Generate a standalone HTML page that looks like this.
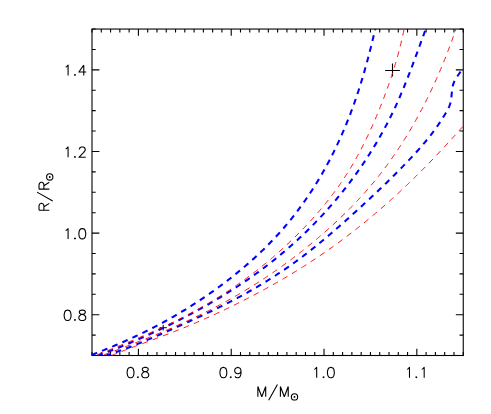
<!DOCTYPE html>
<html><head><meta charset="utf-8"><title>R/R vs M/M</title>
<style>
html,body{margin:0;padding:0;background:#fff;font-family:"Liberation Sans",sans-serif;}
svg{display:block}
</style></head><body>
<svg width="491" height="414" viewBox="0 0 491 414">
<rect width="491" height="414" fill="#fff"/>
<defs><clipPath id="c"><rect x="91.5" y="29.05" width="371.75" height="327.05"/></clipPath></defs>
<g fill="none" stroke="#000" stroke-width="1.1">
<rect x="92.0" y="29.05" width="371.25" height="326.45"/>
<path d="M92.00,355.50v-3.50 M92.00,29.05v3.50 M101.28,355.50v-3.50 M101.28,29.05v3.50 M110.56,355.50v-3.50 M110.56,29.05v3.50 M119.84,355.50v-3.50 M119.84,29.05v3.50 M129.13,355.50v-3.50 M129.13,29.05v3.50 M138.41,355.50v-6.80 M138.41,29.05v6.80 M147.69,355.50v-3.50 M147.69,29.05v3.50 M156.97,355.50v-3.50 M156.97,29.05v3.50 M166.25,355.50v-3.50 M166.25,29.05v3.50 M175.53,355.50v-3.50 M175.53,29.05v3.50 M184.81,355.50v-3.50 M184.81,29.05v3.50 M194.09,355.50v-3.50 M194.09,29.05v3.50 M203.38,355.50v-3.50 M203.38,29.05v3.50 M212.66,355.50v-3.50 M212.66,29.05v3.50 M221.94,355.50v-3.50 M221.94,29.05v3.50 M231.22,355.50v-6.80 M231.22,29.05v6.80 M240.50,355.50v-3.50 M240.50,29.05v3.50 M249.78,355.50v-3.50 M249.78,29.05v3.50 M259.06,355.50v-3.50 M259.06,29.05v3.50 M268.34,355.50v-3.50 M268.34,29.05v3.50 M277.62,355.50v-3.50 M277.62,29.05v3.50 M286.91,355.50v-3.50 M286.91,29.05v3.50 M296.19,355.50v-3.50 M296.19,29.05v3.50 M305.47,355.50v-3.50 M305.47,29.05v3.50 M314.75,355.50v-3.50 M314.75,29.05v3.50 M324.03,355.50v-6.80 M324.03,29.05v6.80 M333.31,355.50v-3.50 M333.31,29.05v3.50 M342.59,355.50v-3.50 M342.59,29.05v3.50 M351.88,355.50v-3.50 M351.88,29.05v3.50 M361.16,355.50v-3.50 M361.16,29.05v3.50 M370.44,355.50v-3.50 M370.44,29.05v3.50 M379.72,355.50v-3.50 M379.72,29.05v3.50 M389.00,355.50v-3.50 M389.00,29.05v3.50 M398.28,355.50v-3.50 M398.28,29.05v3.50 M407.56,355.50v-3.50 M407.56,29.05v3.50 M416.84,355.50v-6.80 M416.84,29.05v6.80 M426.12,355.50v-3.50 M426.12,29.05v3.50 M435.41,355.50v-3.50 M435.41,29.05v3.50 M444.69,355.50v-3.50 M444.69,29.05v3.50 M453.97,355.50v-3.50 M453.97,29.05v3.50 M463.25,355.50v-3.50 M463.25,29.05v3.50 M92.00,355.50h3.70 M463.25,355.50h-3.70 M92.00,335.10h3.70 M463.25,335.10h-3.70 M92.00,314.69h7.40 M463.25,314.69h-7.40 M92.00,294.29h3.70 M463.25,294.29h-3.70 M92.00,273.89h3.70 M463.25,273.89h-3.70 M92.00,253.48h3.70 M463.25,253.48h-3.70 M92.00,233.08h7.40 M463.25,233.08h-7.40 M92.00,212.68h3.70 M463.25,212.68h-3.70 M92.00,192.27h3.70 M463.25,192.27h-3.70 M92.00,171.87h3.70 M463.25,171.87h-3.70 M92.00,151.47h7.40 M463.25,151.47h-7.40 M92.00,131.07h3.70 M463.25,131.07h-3.70 M92.00,110.66h3.70 M463.25,110.66h-3.70 M92.00,90.26h3.70 M463.25,90.26h-3.70 M92.00,69.86h7.40 M463.25,69.86h-7.40 M92.00,49.45h3.70 M463.25,49.45h-3.70 M92.00,29.05h3.70 M463.25,29.05h-3.70"/>
</g>
<g fill="none" stroke="#000" stroke-width="1.1" stroke-linecap="butt" stroke-linejoin="round">
<path d="M130.07,367.41 L128.60,367.90 L127.62,369.37 L127.13,371.82 L127.13,373.29 L127.62,375.74 L128.60,377.21 L130.07,377.70 L131.05,377.70 L132.52,377.21 L133.50,375.74 L133.99,373.29 L133.99,371.82 L133.50,369.37 L132.52,367.90 L131.05,367.41 L130.07,367.41 M137.91,376.72 L137.42,377.21 L137.91,377.70 L138.40,377.21 L137.91,376.72 M144.28,367.41 L142.81,367.90 L142.32,368.88 L142.32,369.86 L142.81,370.84 L143.79,371.33 L145.75,371.82 L147.22,372.31 L148.20,373.29 L148.69,374.27 L148.69,375.74 L148.20,376.72 L147.71,377.21 L146.24,377.70 L144.28,377.70 L142.81,377.21 L142.32,376.72 L141.83,375.74 L141.83,374.27 L142.32,373.29 L143.30,372.31 L144.77,371.82 L146.73,371.33 L147.71,370.84 L148.20,369.86 L148.20,368.88 L147.71,367.90 L146.24,367.41 L144.28,367.41 M222.88,367.41 L221.41,367.90 L220.43,369.37 L219.94,371.82 L219.94,373.29 L220.43,375.74 L221.41,377.21 L222.88,377.70 L223.86,377.70 L225.33,377.21 L226.31,375.74 L226.80,373.29 L226.80,371.82 L226.31,369.37 L225.33,367.90 L223.86,367.41 L222.88,367.41 M230.72,376.72 L230.23,377.21 L230.72,377.70 L231.21,377.21 L230.72,376.72 M241.01,370.84 L240.52,372.31 L239.54,373.29 L238.07,373.78 L237.58,373.78 L236.11,373.29 L235.13,372.31 L234.64,370.84 L234.64,370.35 L235.13,368.88 L236.11,367.90 L237.58,367.41 L238.07,367.41 L239.54,367.90 L240.52,368.88 L241.01,370.84 L241.01,373.29 L240.52,375.74 L239.54,377.21 L238.07,377.70 L237.09,377.70 L235.62,377.21 L235.13,376.23 M314.22,369.37 L315.20,368.88 L316.67,367.41 L316.67,377.70 M323.53,376.72 L323.04,377.21 L323.53,377.70 L324.02,377.21 L323.53,376.72 M330.39,367.41 L328.92,367.90 L327.94,369.37 L327.45,371.82 L327.45,373.29 L327.94,375.74 L328.92,377.21 L330.39,377.70 L331.37,377.70 L332.84,377.21 L333.82,375.74 L334.31,373.29 L334.31,371.82 L333.82,369.37 L332.84,367.90 L331.37,367.41 L330.39,367.41 M407.03,369.37 L408.01,368.88 L409.48,367.41 L409.48,377.70 M416.34,376.72 L415.85,377.21 L416.34,377.70 L416.83,377.21 L416.34,376.72 M421.73,369.37 L422.71,368.88 L424.18,367.41 L424.18,377.70 M67.11,310.15 L65.64,310.64 L64.66,312.11 L64.17,314.56 L64.17,316.03 L64.66,318.48 L65.64,319.95 L67.11,320.44 L68.09,320.44 L69.56,319.95 L70.54,318.48 L71.03,316.03 L71.03,314.56 L70.54,312.11 L69.56,310.64 L68.09,310.15 L67.11,310.15 M74.95,319.46 L74.46,319.95 L74.95,320.44 L75.44,319.95 L74.95,319.46 M81.32,310.15 L79.85,310.64 L79.36,311.62 L79.36,312.60 L79.85,313.58 L80.83,314.07 L82.79,314.56 L84.26,315.05 L85.24,316.03 L85.73,317.01 L85.73,318.48 L85.24,319.46 L84.75,319.95 L83.28,320.44 L81.32,320.44 L79.85,319.95 L79.36,319.46 L78.87,318.48 L78.87,317.01 L79.36,316.03 L80.34,315.05 L81.81,314.56 L83.77,314.07 L84.75,313.58 L85.24,312.60 L85.24,311.62 L84.75,310.64 L83.28,310.15 L81.32,310.15 M65.64,230.59 L66.62,230.10 L68.09,228.63 L68.09,238.92 M74.95,237.94 L74.46,238.43 L74.95,238.92 L75.44,238.43 L74.95,237.94 M81.81,228.63 L80.34,229.12 L79.36,230.59 L78.87,233.04 L78.87,234.51 L79.36,236.96 L80.34,238.43 L81.81,238.92 L82.79,238.92 L84.26,238.43 L85.24,236.96 L85.73,234.51 L85.73,233.04 L85.24,230.59 L84.26,229.12 L82.79,228.63 L81.81,228.63 M65.64,148.97 L66.62,148.48 L68.09,147.01 L68.09,157.30 M74.95,156.32 L74.46,156.81 L74.95,157.30 L75.44,156.81 L74.95,156.32 M79.36,149.46 L79.36,148.97 L79.85,147.99 L80.34,147.50 L81.32,147.01 L83.28,147.01 L84.26,147.50 L84.75,147.99 L85.24,148.97 L85.24,149.95 L84.75,150.93 L83.77,152.40 L78.87,157.30 L85.73,157.30 M65.64,67.13 L66.62,66.64 L68.09,65.17 L68.09,75.46 M74.95,74.48 L74.46,74.97 L74.95,75.46 L75.44,74.97 L74.95,74.48 M83.77,65.17 L78.87,72.03 L86.22,72.03 M83.77,65.17 L83.77,75.46 M257.86,386.46 L257.86,396.75 M257.86,386.46 L261.78,396.75 M265.70,386.46 L261.78,396.75 M265.70,386.46 L265.70,396.75 M277.46,384.50 L268.64,400.18 M280.40,386.46 L280.40,396.75 M280.40,386.46 L284.32,396.75 M288.24,386.46 L284.32,396.75 M288.24,386.46 L288.24,396.75 M39.01,210.24 L49.30,210.24 M39.01,210.24 L39.01,205.83 L39.50,204.36 L39.99,203.87 L40.97,203.38 L41.95,203.38 L42.93,203.87 L43.42,204.36 L43.91,205.83 L43.91,210.24 M43.91,206.81 L49.30,203.38 M37.05,192.11 L52.73,200.93 M39.01,189.17 L49.30,189.17 M39.01,189.17 L39.01,184.76 L39.50,183.29 L39.99,182.80 L40.97,182.31 L41.95,182.31 L42.93,182.80 L43.42,183.29 L43.91,184.76 L43.91,189.17 M43.91,185.74 L49.30,182.31"/>
<circle cx="294.5" cy="396.9" r="3.15"/>
<circle cx="49.75" cy="176.95" r="3.15"/>
</g>
<circle cx="294.5" cy="396.9" r="0.95" fill="#000"/>
<circle cx="49.75" cy="176.95" r="0.95" fill="#000"/>
<g fill="none" stroke="#000" stroke-width="1.1">
<path d="M385.1,70.45h14.8M392.5,63.4v13.2"/>
<path d="M159.6,327.7h7.2M163.2,324.8v5.6" stroke-width="1"/>
</g>
<g clip-path="url(#c)" fill="none">
<g stroke="#0000ff" stroke-width="2.05">
<path d="M78.51,359.98 L79.81,359.47 L81.11,358.97 L82.42,358.47 L83.72,357.96 L85.02,357.46 L86.32,356.96 L87.62,356.45 L88.92,355.95 L90.22,355.45 L91.53,354.94 L92.83,354.44 L94.13,353.94 L95.43,353.43 L96.73,352.92 L98.03,352.42 L99.33,351.90 L100.62,351.39 L101.92,350.87 L103.21,350.35 L104.51,349.83 L105.80,349.31 L107.09,348.78 L108.38,348.25 L109.67,347.72 L110.96,347.18 L112.24,346.64 L113.53,346.10 L114.81,345.56 L116.09,345.02 L117.37,344.47 L118.65,343.92 L119.93,343.36 L121.21,342.81 L122.48,342.25 L123.76,341.69 L125.03,341.12 L126.30,340.56 L127.57,339.99 L128.83,339.41 L130.10,338.84 L131.36,338.26 L132.62,337.68 L133.88,337.09 L135.14,336.51 L136.40,335.92 L137.65,335.32 L138.91,334.73 L140.16,334.13 L141.41,333.53 L142.66,332.92 L143.90,332.32 L145.14,331.70 L146.39,331.09 L147.63,330.47 L148.86,329.85 L150.10,329.23 L151.33,328.61 L152.57,327.98 L153.79,327.34 L155.02,326.71 L156.25,326.07 L157.47,325.43 L158.69,324.78 L159.91,324.14 L161.13,323.49 L162.34,322.83 L163.55,322.17 L164.76,321.51 L165.97,320.85 L167.18,320.18 L168.38,319.51 L169.58,318.84 L170.78,318.16 L171.97,317.48 L173.17,316.80 L174.36,316.11 L175.55,315.42 L176.74,314.73 L177.92,314.03 L179.10,313.33 L180.28,312.63 L181.46,311.92 L182.64,311.21 L183.81,310.50 L184.99,309.78 L186.16,309.06 L187.32,308.34 L188.49,307.62 L189.65,306.89 L190.81,306.15 L191.97,305.42 L193.13,304.68 L194.29,303.94 L195.44,303.19 L196.59,302.44 L197.74,301.69 L198.88,300.94 L200.03,300.18 L201.17,299.42 L202.31,298.65 L203.45,297.88 L204.58,297.11 L205.72,296.33 L206.85,295.56 L207.98,294.77 L209.11,293.99 L210.23,293.20 L211.36,292.41 L212.48,291.61 L213.60,290.81 L214.72,290.01 L215.83,289.21 L216.94,288.40 L218.06,287.59 L219.17,286.77 L220.27,285.95 L221.38,285.13 L222.48,284.31 L223.58,283.48 L224.68,282.65 L225.78,281.81 L226.88,280.97 L227.97,280.13 L229.06,279.28 L230.15,278.44 L231.23,277.58 L232.32,276.73 L233.40,275.87 L234.48,275.01 L235.56,274.14 L236.63,273.27 L237.70,272.40 L238.77,271.52 L239.84,270.64 L240.90,269.76 L241.96,268.87 L243.02,267.98 L244.08,267.08 L245.13,266.19 L246.18,265.29 L247.23,264.38 L248.27,263.47 L249.31,262.56 L250.35,261.65 L251.38,260.73 L252.42,259.80 L253.44,258.88 L254.47,257.95 L255.49,257.01 L256.51,256.08 L257.52,255.14 L258.53,254.19 L259.54,253.24 L260.55,252.29 L261.55,251.34 L262.54,250.38 L263.54,249.41 L264.52,248.45 L265.51,247.48 L266.49,246.50 L267.47,245.53 L268.44,244.54 L269.41,243.56 L270.38,242.57 L271.34,241.58 L272.30,240.58 L273.25,239.58 L274.20,238.57 L275.15,237.57 L276.09,236.55 L277.02,235.54 L277.95,234.52 L278.88,233.50 L279.80,232.47 L280.72,231.44 L281.64,230.40 L282.55,229.36 L283.45,228.32 L284.35,227.28 L285.25,226.23 L286.14,225.17 L287.03,224.12 L287.91,223.05 L288.79,221.99 L289.66,220.92 L290.53,219.85 L291.40,218.78 L292.26,217.70 L293.11,216.62 L293.97,215.53 L294.81,214.44 L295.66,213.35 L296.49,212.26 L297.33,211.16 L298.16,210.06 L298.98,208.95 L299.80,207.84 L300.62,206.73 L301.43,205.62 L302.24,204.50 L303.04,203.38 L303.84,202.26 L304.63,201.13 L305.42,200.00 L306.21,198.87 L306.99,197.73 L307.77,196.59 L308.54,195.45 L309.31,194.30 L310.07,193.16 L310.83,192.01 L311.58,190.85 L312.33,189.70 L313.08,188.54 L313.82,187.38 L314.56,186.21 L315.29,185.04 L316.02,183.87 L316.74,182.70 L317.46,181.53 L318.17,180.35 L318.88,179.17 L319.59,177.99 L320.29,176.80 L320.99,175.61 L321.68,174.42 L322.37,173.23 L323.05,172.04 L323.73,170.84 L324.41,169.64 L325.08,168.44 L325.74,167.23 L326.41,166.03 L327.06,164.82 L327.72,163.60 L328.37,162.39 L329.01,161.18 L329.65,159.96 L330.29,158.74 L330.92,157.52 L331.55,156.29 L332.17,155.06 L332.79,153.84 L333.41,152.60 L334.02,151.37 L334.62,150.14 L335.23,148.90 L335.83,147.66 L336.42,146.42 L337.01,145.18 L337.60,143.93 L338.18,142.69 L338.76,141.44 L339.33,140.19 L339.90,138.94 L340.47,137.68 L341.03,136.43 L341.59,135.17 L342.14,133.91 L342.69,132.65 L343.23,131.39 L343.78,130.12 L344.31,128.85 L344.85,127.59 L345.38,126.32 L345.90,125.05 L346.42,123.77 L346.94,122.50 L347.46,121.22 L347.97,119.95 L348.47,118.67 L348.97,117.39 L349.47,116.11 L349.97,114.82 L350.46,113.54 L350.95,112.25 L351.43,110.97 L351.91,109.68 L352.38,108.39 L352.85,107.10 L353.32,105.81 L353.79,104.51 L354.25,103.22 L354.70,101.92 L355.16,100.62 L355.61,99.32 L356.05,98.02 L356.50,96.72 L356.94,95.42 L357.37,94.11 L357.81,92.81 L358.24,91.50 L358.66,90.19 L359.08,88.88 L359.50,87.57 L359.92,86.26 L360.33,84.94 L360.74,83.62 L361.15,82.31 L361.56,80.99 L361.96,79.67 L362.36,78.34 L362.75,77.02 L363.14,75.70 L363.53,74.37 L363.92,73.04 L364.31,71.71 L364.69,70.38 L365.07,69.05 L365.44,67.71 L365.82,66.38 L366.19,65.04 L366.56,63.70 L366.92,62.36 L367.29,61.02 L367.65,59.67 L368.01,58.33 L368.37,56.98 L368.72,55.63 L369.07,54.28 L369.42,52.93 L369.77,51.57 L370.12,50.22 L370.46,48.86 L370.80,47.50 L371.14,46.14 L371.48,44.78 L371.82,43.41 L372.15,42.05 L372.48,40.68 L372.81,39.31 L373.14,37.94 L373.47,36.57 L373.80,35.19 L374.13,33.82 L374.45,32.45 L374.78,31.08 L375.11,29.71 L375.44,28.33 L375.76,26.96 L376.09,25.59 L376.42,24.22 L376.75,22.84 L377.08,21.47" stroke-dasharray="5.8 5.238" stroke-dashoffset="7.922"/>
<path d="M84.84,360.36 L86.13,359.88 L87.43,359.41 L88.72,358.93 L90.01,358.45 L91.30,357.97 L92.59,357.50 L93.88,357.02 L95.17,356.54 L96.46,356.07 L97.75,355.59 L99.05,355.11 L100.34,354.63 L101.63,354.16 L102.92,353.67 L104.20,353.19 L105.49,352.71 L106.78,352.22 L108.06,351.73 L109.35,351.23 L110.63,350.74 L111.91,350.24 L113.19,349.74 L114.47,349.23 L115.75,348.73 L117.03,348.22 L118.31,347.71 L119.58,347.20 L120.86,346.68 L122.13,346.16 L123.40,345.64 L124.68,345.12 L125.95,344.59 L127.22,344.07 L128.48,343.54 L129.75,343.00 L131.02,342.47 L132.28,341.93 L133.55,341.39 L134.81,340.85 L136.07,340.31 L137.34,339.76 L138.60,339.21 L139.86,338.66 L141.12,338.10 L142.37,337.55 L143.63,336.99 L144.89,336.43 L146.14,335.87 L147.39,335.30 L148.65,334.73 L149.90,334.16 L151.15,333.59 L152.40,333.01 L153.65,332.44 L154.90,331.86 L156.14,331.27 L157.39,330.69 L158.63,330.10 L159.88,329.52 L161.12,328.92 L162.36,328.33 L163.60,327.74 L164.84,327.14 L166.08,326.54 L167.32,325.93 L168.56,325.33 L169.80,324.72 L171.03,324.11 L172.27,323.50 L173.50,322.89 L174.73,322.27 L175.96,321.65 L177.19,321.03 L178.42,320.41 L179.65,319.79 L180.88,319.16 L182.11,318.53 L183.33,317.90 L184.56,317.26 L185.78,316.63 L187.00,315.99 L188.22,315.34 L189.44,314.70 L190.66,314.05 L191.88,313.40 L193.10,312.75 L194.31,312.10 L195.53,311.44 L196.74,310.78 L197.95,310.12 L199.16,309.46 L200.37,308.79 L201.57,308.12 L202.78,307.45 L203.98,306.77 L205.19,306.10 L206.39,305.42 L207.59,304.74 L208.78,304.05 L209.98,303.36 L211.18,302.67 L212.37,301.98 L213.56,301.28 L214.75,300.58 L215.94,299.88 L217.13,299.18 L218.31,298.47 L219.49,297.76 L220.68,297.05 L221.86,296.33 L223.03,295.61 L224.21,294.89 L225.39,294.17 L226.56,293.44 L227.73,292.71 L228.90,291.98 L230.06,291.24 L231.23,290.50 L232.39,289.76 L233.55,289.01 L234.71,288.27 L235.87,287.51 L237.03,286.76 L238.18,286.00 L239.33,285.24 L240.48,284.48 L241.63,283.71 L242.77,282.94 L243.91,282.17 L245.05,281.39 L246.19,280.61 L247.33,279.83 L248.46,279.05 L249.59,278.26 L250.72,277.47 L251.85,276.67 L252.97,275.87 L254.10,275.07 L255.22,274.27 L256.33,273.46 L257.45,272.65 L258.56,271.84 L259.67,271.02 L260.78,270.20 L261.89,269.38 L262.99,268.55 L264.09,267.72 L265.19,266.89 L266.29,266.05 L267.38,265.21 L268.47,264.37 L269.56,263.53 L270.65,262.68 L271.73,261.82 L272.82,260.97 L273.89,260.11 L274.97,259.25 L276.04,258.38 L277.12,257.52 L278.18,256.65 L279.25,255.77 L280.31,254.89 L281.37,254.01 L282.43,253.13 L283.49,252.24 L284.54,251.35 L285.59,250.46 L286.64,249.56 L287.68,248.66 L288.72,247.76 L289.76,246.85 L290.80,245.94 L291.83,245.03 L292.86,244.11 L293.89,243.19 L294.91,242.27 L295.93,241.34 L296.95,240.41 L297.97,239.48 L298.98,238.54 L299.99,237.60 L301.00,236.66 L302.00,235.72 L303.00,234.77 L304.00,233.81 L305.00,232.86 L305.99,231.90 L306.98,230.94 L307.96,229.97 L308.95,229.00 L309.93,228.03 L310.90,227.06 L311.88,226.08 L312.85,225.10 L313.82,224.11 L314.78,223.12 L315.74,222.13 L316.70,221.14 L317.66,220.14 L318.61,219.14 L319.56,218.14 L320.50,217.13 L321.45,216.12 L322.38,215.11 L323.32,214.10 L324.25,213.08 L325.18,212.06 L326.11,211.03 L327.03,210.01 L327.95,208.98 L328.87,207.94 L329.78,206.91 L330.69,205.87 L331.60,204.83 L332.50,203.78 L333.40,202.73 L334.30,201.68 L335.19,200.63 L336.08,199.57 L336.97,198.51 L337.85,197.45 L338.73,196.39 L339.61,195.32 L340.48,194.25 L341.35,193.18 L342.22,192.10 L343.08,191.02 L343.94,189.94 L344.79,188.86 L345.65,187.77 L346.50,186.68 L347.34,185.59 L348.18,184.50 L349.02,183.40 L349.86,182.30 L350.69,181.20 L351.51,180.09 L352.34,178.99 L353.16,177.88 L353.98,176.76 L354.79,175.65 L355.60,174.53 L356.40,173.41 L357.21,172.29 L358.01,171.16 L358.80,170.03 L359.59,168.90 L360.38,167.77 L361.16,166.64 L361.94,165.50 L362.72,164.36 L363.49,163.22 L364.26,162.07 L365.03,160.92 L365.79,159.77 L366.55,158.62 L367.30,157.47 L368.05,156.31 L368.80,155.15 L369.54,153.99 L370.28,152.82 L371.01,151.65 L371.74,150.48 L372.47,149.31 L373.19,148.14 L373.91,146.96 L374.63,145.78 L375.34,144.60 L376.05,143.42 L376.75,142.23 L377.45,141.04 L378.14,139.85 L378.84,138.66 L379.52,137.46 L380.21,136.26 L380.89,135.06 L381.56,133.86 L382.23,132.66 L382.90,131.45 L383.56,130.24 L384.22,129.03 L384.88,127.81 L385.53,126.60 L386.17,125.38 L386.82,124.16 L387.46,122.93 L388.09,121.71 L388.72,120.48 L389.35,119.25 L389.97,118.02 L390.58,116.78 L391.20,115.55 L391.81,114.31 L392.41,113.06 L393.01,111.82 L393.61,110.57 L394.20,109.33 L394.79,108.08 L395.37,106.82 L395.95,105.57 L396.52,104.31 L397.09,103.05 L397.66,101.79 L398.22,100.53 L398.78,99.26 L399.34,98.00 L399.89,96.73 L400.44,95.46 L400.98,94.18 L401.52,92.91 L402.06,91.63 L402.59,90.36 L403.12,89.08 L403.65,87.80 L404.18,86.51 L404.70,85.23 L405.22,83.95 L405.74,82.66 L406.25,81.37 L406.76,80.08 L407.27,78.79 L407.78,77.50 L408.28,76.21 L408.78,74.92 L409.29,73.62 L409.78,72.33 L410.28,71.03 L410.77,69.73 L411.27,68.43 L411.76,67.13 L412.25,65.83 L412.74,64.53 L413.22,63.23 L413.71,61.93 L414.19,60.63 L414.68,59.33 L415.16,58.02 L415.64,56.72 L416.12,55.42 L416.60,54.11 L417.08,52.81 L417.56,51.50 L418.03,50.20 L418.51,48.89 L418.99,47.59 L419.47,46.28 L419.94,44.98 L420.42,43.67 L420.90,42.36 L421.37,41.06 L421.85,39.75 L422.33,38.45 L422.81,37.15 L423.28,35.84 L423.76,34.54 L424.24,33.23 L424.72,31.93 L425.20,30.63 L425.68,29.33 L426.16,28.02 L426.64,26.72 L427.12,25.42 L427.60,24.11 L428.08,22.81 L428.56,21.51 L429.04,20.20 L429.52,18.90 L430.00,17.60" stroke-dasharray="5.8 5.240" stroke-dashoffset="8.684"/>
<path d="M91.63,360.31 L92.97,359.87 L94.31,359.42 L95.65,358.98 L96.99,358.54 L98.34,358.09 L99.68,357.65 L101.02,357.21 L102.36,356.77 L103.70,356.32 L105.05,355.88 L106.39,355.44 L107.73,354.99 L109.07,354.55 L110.41,354.10 L111.74,353.65 L113.07,353.19 L114.40,352.73 L115.72,352.27 L117.04,351.80 L118.36,351.33 L119.67,350.85 L120.98,350.38 L122.29,349.90 L123.60,349.41 L124.90,348.92 L126.20,348.43 L127.50,347.94 L128.80,347.44 L130.09,346.94 L131.39,346.44 L132.67,345.93 L133.96,345.43 L135.25,344.92 L136.53,344.40 L137.81,343.89 L139.09,343.37 L140.37,342.85 L141.65,342.32 L142.92,341.80 L144.20,341.27 L145.47,340.74 L146.74,340.20 L148.01,339.67 L149.28,339.13 L150.55,338.59 L151.81,338.05 L153.08,337.51 L154.34,336.97 L155.61,336.42 L156.87,335.87 L158.13,335.32 L159.40,334.77 L160.66,334.22 L161.92,333.67 L163.18,333.11 L164.44,332.56 L165.70,332.00 L166.96,331.44 L168.22,330.88 L169.48,330.32 L170.74,329.76 L172.00,329.19 L173.27,328.63 L174.53,328.07 L175.79,327.50 L177.05,326.94 L178.32,326.37 L179.58,325.80 L180.84,325.23 L182.11,324.66 L183.37,324.09 L184.63,323.52 L185.90,322.95 L187.16,322.38 L188.43,321.80 L189.69,321.23 L190.95,320.65 L192.22,320.07 L193.48,319.49 L194.74,318.91 L196.01,318.33 L197.27,317.75 L198.53,317.16 L199.79,316.57 L201.05,315.99 L202.31,315.40 L203.57,314.80 L204.83,314.21 L206.09,313.62 L207.35,313.02 L208.61,312.42 L209.86,311.82 L211.12,311.22 L212.37,310.62 L213.62,310.01 L214.87,309.40 L216.12,308.80 L217.37,308.18 L218.62,307.57 L219.87,306.95 L221.11,306.34 L222.36,305.72 L223.60,305.09 L224.84,304.47 L226.08,303.84 L227.32,303.21 L228.56,302.58 L229.79,301.95 L231.02,301.31 L232.25,300.67 L233.48,300.03 L234.71,299.38 L235.94,298.74 L237.16,298.09 L238.38,297.43 L239.60,296.78 L240.82,296.12 L242.03,295.46 L243.24,294.80 L244.46,294.13 L245.66,293.46 L246.87,292.79 L248.07,292.11 L249.28,291.43 L250.48,290.75 L251.67,290.07 L252.87,289.38 L254.06,288.69 L255.25,288.00 L256.44,287.30 L257.63,286.60 L258.82,285.90 L260.00,285.19 L261.18,284.48 L262.36,283.77 L263.53,283.06 L264.71,282.34 L265.88,281.62 L267.05,280.89 L268.22,280.17 L269.38,279.44 L270.55,278.70 L271.71,277.97 L272.87,277.23 L274.02,276.48 L275.18,275.74 L276.33,274.99 L277.48,274.23 L278.63,273.48 L279.77,272.72 L280.92,271.95 L282.06,271.19 L283.20,270.42 L284.34,269.64 L285.47,268.86 L286.60,268.08 L287.73,267.30 L288.86,266.51 L289.99,265.72 L291.11,264.93 L292.24,264.13 L293.36,263.33 L294.47,262.52 L295.59,261.72 L296.70,260.90 L297.81,260.09 L298.92,259.27 L300.03,258.45 L301.13,257.62 L302.24,256.79 L303.34,255.96 L304.44,255.12 L305.53,254.28 L306.63,253.44 L307.72,252.59 L308.81,251.74 L309.90,250.89 L310.98,250.03 L312.07,249.17 L313.15,248.31 L314.23,247.44 L315.31,246.58 L316.38,245.70 L317.46,244.83 L318.53,243.96 L319.60,243.08 L320.67,242.20 L321.74,241.31 L322.80,240.43 L323.87,239.54 L324.93,238.65 L325.99,237.76 L327.05,236.86 L328.11,235.97 L329.16,235.07 L330.21,234.17 L331.27,233.27 L332.32,232.36 L333.36,231.46 L334.41,230.55 L335.46,229.64 L336.50,228.73 L337.54,227.82 L338.59,226.91 L339.62,226.00 L340.66,225.08 L341.70,224.17 L342.74,223.25 L343.77,222.33 L344.80,221.41 L345.83,220.49 L346.86,219.57 L347.89,218.65 L348.92,217.72 L349.94,216.80 L350.97,215.88 L351.99,214.95 L353.02,214.03 L354.04,213.10 L355.06,212.18 L356.08,211.25 L357.09,210.32 L358.11,209.40 L359.13,208.47 L360.14,207.54 L361.15,206.62 L362.16,205.69 L363.17,204.76 L364.18,203.83 L365.19,202.90 L366.20,201.97 L367.21,201.04 L368.21,200.11 L369.21,199.17 L370.22,198.24 L371.22,197.30 L372.22,196.37 L373.22,195.43 L374.22,194.49 L375.21,193.55 L376.21,192.61 L377.20,191.67 L378.20,190.73 L379.19,189.79 L380.18,188.84 L381.17,187.89 L382.16,186.95 L383.14,186.00 L384.13,185.05 L385.11,184.09 L386.10,183.14 L387.08,182.18 L388.06,181.23 L389.04,180.27 L390.02,179.31 L391.00,178.35 L391.97,177.38 L392.95,176.41 L393.92,175.45 L394.90,174.48 L395.87,173.50 L396.84,172.53 L397.81,171.55 L398.77,170.57 L399.74,169.59 L400.71,168.61 L401.67,167.63 L402.63,166.64 L403.60,165.65 L404.56,164.65 L405.52,163.66 L406.47,162.66 L407.43,161.66 L408.39,160.66 L409.34,159.65 L410.29,158.65 L411.24,157.64 L412.19,156.62 L413.13,155.60 L414.08,154.58 L415.01,153.56 L415.95,152.53 L416.88,151.50 L417.81,150.47 L418.74,149.43 L419.66,148.39 L420.58,147.35 L421.49,146.30 L422.40,145.25 L423.30,144.20 L424.20,143.14 L425.09,142.08 L425.98,141.01 L426.86,139.94 L427.74,138.86 L428.61,137.78 L429.47,136.70 L430.33,135.61 L431.18,134.52 L432.02,133.42 L432.85,132.32 L433.68,131.21 L434.50,130.10 L435.32,128.99 L436.12,127.86 L436.92,126.74 L437.71,125.61 L438.48,124.47 L439.19,123.42 L439.89,122.37 L440.59,121.31 L441.28,120.24 L441.98,119.14 L442.69,118.03 L443.41,116.88 L444.15,115.70 L444.91,114.48 L445.67,113.22 L446.43,111.94 L447.17,110.63 L447.87,109.31 L448.53,107.98 L449.13,106.64 L449.65,105.30 L450.09,103.97 L450.45,102.64 L450.75,101.31 L451.00,99.98 L451.20,98.63 L451.37,97.27 L451.51,95.90 L451.65,94.50 L451.79,93.08 L451.93,91.64 L452.10,90.20 L452.29,88.77 L452.53,87.35 L452.81,85.96 L453.14,84.60 L453.55,83.30 L454.03,82.05 L454.58,80.85 L455.19,79.68 L455.87,78.53 L456.60,77.38 L457.37,76.21 L458.19,75.03 L459.05,73.80 L459.94,72.52 L460.85,71.17" stroke-dasharray="5.8 5.251" stroke-dashoffset="7.723"/>
</g>
<g stroke="#ff0000" stroke-width="0.95">
<path d="M84.92,359.76 L86.18,359.25 L87.44,358.74 L88.70,358.23 L89.96,357.72 L91.22,357.21 L92.48,356.71 L93.74,356.20 L95.00,355.69 L96.26,355.18 L97.52,354.67 L98.78,354.17 L100.04,353.66 L101.30,353.15 L102.56,352.64 L103.83,352.13 L105.09,351.62 L106.36,351.11 L107.62,350.60 L108.89,350.09 L110.16,349.57 L111.43,349.06 L112.70,348.54 L113.97,348.03 L115.24,347.51 L116.52,347.00 L117.79,346.48 L119.06,345.96 L120.34,345.44 L121.61,344.92 L122.89,344.39 L124.17,343.87 L125.44,343.34 L126.72,342.82 L127.99,342.29 L129.27,341.76 L130.55,341.23 L131.82,340.70 L133.10,340.16 L134.38,339.63 L135.65,339.09 L136.93,338.55 L138.20,338.01 L139.48,337.47 L140.75,336.92 L142.03,336.38 L143.30,335.83 L144.57,335.28 L145.85,334.73 L147.12,334.17 L148.39,333.62 L149.66,333.06 L150.93,332.50 L152.19,331.94 L153.46,331.37 L154.73,330.80 L155.99,330.23 L157.25,329.66 L158.52,329.09 L159.78,328.51 L161.04,327.93 L162.30,327.35 L163.55,326.77 L164.81,326.18 L166.06,325.59 L167.31,325.00 L168.56,324.40 L169.81,323.81 L171.06,323.21 L172.30,322.60 L173.54,322.00 L174.78,321.39 L176.02,320.78 L177.26,320.16 L178.49,319.54 L179.72,318.92 L180.95,318.30 L182.18,317.67 L183.41,317.04 L184.63,316.41 L185.86,315.77 L187.08,315.13 L188.30,314.49 L189.51,313.84 L190.73,313.19 L191.94,312.54 L193.15,311.89 L194.36,311.23 L195.56,310.57 L196.77,309.90 L197.97,309.24 L199.17,308.57 L200.37,307.89 L201.57,307.21 L202.76,306.53 L203.95,305.85 L205.14,305.16 L206.33,304.47 L207.52,303.78 L208.70,303.08 L209.88,302.38 L211.06,301.68 L212.24,300.97 L213.42,300.26 L214.59,299.55 L215.76,298.83 L216.93,298.11 L218.10,297.38 L219.27,296.66 L220.43,295.92 L221.59,295.19 L222.75,294.45 L223.90,293.71 L225.06,292.96 L226.21,292.21 L227.36,291.46 L228.51,290.71 L229.66,289.95 L230.80,289.18 L231.94,288.42 L233.08,287.65 L234.22,286.87 L235.35,286.09 L236.49,285.31 L237.62,284.53 L238.75,283.74 L239.87,282.94 L241.00,282.15 L242.12,281.35 L243.24,280.54 L244.36,279.74 L245.47,278.93 L246.59,278.11 L247.70,277.29 L248.81,276.47 L249.91,275.64 L251.01,274.82 L252.12,273.98 L253.21,273.15 L254.31,272.31 L255.40,271.46 L256.50,270.62 L257.59,269.77 L258.67,268.91 L259.76,268.06 L260.84,267.20 L261.92,266.33 L262.99,265.46 L264.07,264.59 L265.14,263.72 L266.21,262.84 L267.27,261.96 L268.33,261.08 L269.40,260.19 L270.45,259.30 L271.51,258.40 L272.56,257.51 L273.61,256.60 L274.66,255.70 L275.70,254.79 L276.74,253.88 L277.78,252.97 L278.82,252.05 L279.85,251.13 L280.88,250.21 L281.91,249.28 L282.93,248.35 L283.95,247.42 L284.97,246.48 L285.99,245.54 L287.00,244.60 L288.01,243.66 L289.02,242.71 L290.02,241.76 L291.02,240.80 L292.02,239.85 L293.01,238.89 L294.00,237.92 L294.99,236.96 L295.98,235.99 L296.96,235.02 L297.94,234.04 L298.91,233.06 L299.89,232.08 L300.86,231.10 L301.82,230.11 L302.78,229.12 L303.74,228.13 L304.70,227.13 L305.65,226.13 L306.60,225.13 L307.55,224.12 L308.49,223.12 L309.43,222.11 L310.36,221.09 L311.29,220.07 L312.22,219.05 L313.14,218.03 L314.06,217.00 L314.98,215.97 L315.89,214.94 L316.80,213.90 L317.70,212.86 L318.60,211.82 L319.50,210.77 L320.39,209.72 L321.28,208.67 L322.16,207.62 L323.04,206.56 L323.92,205.50 L324.79,204.43 L325.66,203.36 L326.52,202.29 L327.38,201.21 L328.23,200.13 L329.08,199.05 L329.93,197.97 L330.77,196.88 L331.60,195.79 L332.43,194.69 L333.26,193.59 L334.08,192.49 L334.90,191.38 L335.71,190.27 L336.52,189.16 L337.33,188.04 L338.12,186.92 L338.92,185.80 L339.71,184.67 L340.49,183.54 L341.27,182.41 L342.04,181.27 L342.81,180.13 L343.58,178.98 L344.34,177.84 L345.09,176.68 L345.84,175.53 L346.58,174.37 L347.32,173.21 L348.05,172.04 L348.78,170.87 L349.50,169.70 L350.22,168.52 L350.93,167.34 L351.64,166.16 L352.34,164.97 L353.04,163.78 L353.73,162.59 L354.42,161.40 L355.11,160.20 L355.78,158.99 L356.46,157.79 L357.13,156.58 L357.79,155.37 L358.45,154.16 L359.11,152.94 L359.76,151.72 L360.40,150.50 L361.05,149.28 L361.68,148.05 L362.32,146.82 L362.95,145.59 L363.57,144.36 L364.19,143.12 L364.81,141.88 L365.42,140.64 L366.03,139.40 L366.63,138.15 L367.23,136.91 L367.83,135.66 L368.42,134.40 L369.01,133.15 L369.59,131.90 L370.17,130.64 L370.75,129.38 L371.32,128.12 L371.89,126.86 L372.45,125.59 L373.01,124.32 L373.57,123.06 L374.12,121.79 L374.68,120.52 L375.22,119.25 L375.77,117.97 L376.30,116.70 L376.84,115.42 L377.37,114.14 L377.90,112.86 L378.43,111.59 L378.95,110.30 L379.47,109.02 L379.99,107.74 L380.50,106.46 L381.01,105.17 L381.52,103.88 L382.02,102.60 L382.53,101.31 L383.02,100.02 L383.52,98.73 L384.01,97.44 L384.50,96.15 L384.98,94.86 L385.46,93.56 L385.94,92.27 L386.41,90.97 L386.88,89.67 L387.35,88.38 L387.81,87.08 L388.27,85.78 L388.73,84.47 L389.18,83.17 L389.63,81.87 L390.08,80.56 L390.52,79.25 L390.96,77.94 L391.39,76.63 L391.82,75.32 L392.25,74.01 L392.67,72.70 L393.09,71.38 L393.50,70.06 L393.91,68.75 L394.32,67.43 L394.72,66.10 L395.12,64.78 L395.52,63.46 L395.91,62.13 L396.29,60.80 L396.68,59.47 L397.05,58.14 L397.43,56.81 L397.80,55.48 L398.16,54.14 L398.52,52.81 L398.88,51.47 L399.23,50.13 L399.58,48.78 L399.92,47.44 L400.26,46.09 L400.60,44.75 L400.93,43.40 L401.25,42.04 L401.57,40.69 L401.89,39.34 L402.20,37.98 L402.51,36.62 L402.81,35.26 L403.10,33.90 L403.40,32.53 L403.69,31.17 L403.98,29.80 L404.27,28.43 L404.56,27.07 L404.85,25.70 L405.14,24.34 L405.43,22.97 L405.72,21.60 L406.01,20.24 L406.30,18.87 L406.59,17.51 L406.88,16.14" stroke-dasharray="5.8 5.239" stroke-dashoffset="8.781"/>
<path d="M90.76,359.74 L92.09,359.24 L93.43,358.75 L94.76,358.25 L96.09,357.75 L97.42,357.26 L98.75,356.76 L100.08,356.26 L101.41,355.77 L102.74,355.27 L104.07,354.77 L105.40,354.28 L106.73,353.78 L108.06,353.28 L109.39,352.79 L110.72,352.29 L112.04,351.79 L113.36,351.30 L114.68,350.80 L116.00,350.30 L117.32,349.81 L118.63,349.31 L119.95,348.81 L121.26,348.32 L122.57,347.82 L123.87,347.32 L125.18,346.82 L126.48,346.32 L127.79,345.82 L129.09,345.32 L130.39,344.82 L131.68,344.32 L132.98,343.81 L134.27,343.31 L135.56,342.81 L136.86,342.30 L138.14,341.80 L139.43,341.29 L140.72,340.78 L142.00,340.27 L143.29,339.76 L144.57,339.25 L145.85,338.74 L147.13,338.22 L148.41,337.71 L149.68,337.19 L150.96,336.68 L152.23,336.16 L153.50,335.64 L154.77,335.12 L156.04,334.59 L157.31,334.07 L158.58,333.54 L159.84,333.01 L161.11,332.49 L162.37,331.95 L163.63,331.42 L164.90,330.89 L166.16,330.35 L167.41,329.81 L168.67,329.27 L169.93,328.73 L171.18,328.18 L172.44,327.64 L173.69,327.09 L174.94,326.54 L176.20,325.98 L177.45,325.43 L178.70,324.87 L179.95,324.31 L181.19,323.75 L182.44,323.18 L183.69,322.62 L184.93,322.05 L186.18,321.47 L187.42,320.90 L188.66,320.32 L189.90,319.74 L191.14,319.16 L192.38,318.58 L193.62,317.99 L194.86,317.40 L196.10,316.81 L197.33,316.21 L198.57,315.61 L199.80,315.01 L201.03,314.41 L202.26,313.80 L203.49,313.19 L204.72,312.58 L205.95,311.97 L207.18,311.35 L208.40,310.73 L209.63,310.11 L210.85,309.49 L212.07,308.86 L213.29,308.23 L214.51,307.60 L215.73,306.96 L216.95,306.32 L218.16,305.68 L219.38,305.04 L220.59,304.39 L221.80,303.74 L223.01,303.09 L224.22,302.43 L225.43,301.77 L226.63,301.11 L227.84,300.45 L229.04,299.78 L230.24,299.11 L231.44,298.44 L232.64,297.76 L233.84,297.08 L235.03,296.40 L236.23,295.71 L237.42,295.03 L238.61,294.33 L239.80,293.64 L240.99,292.94 L242.18,292.24 L243.36,291.54 L244.54,290.83 L245.73,290.12 L246.91,289.41 L248.08,288.69 L249.26,287.97 L250.44,287.25 L251.61,286.53 L252.78,285.80 L253.95,285.07 L255.12,284.33 L256.28,283.59 L257.45,282.85 L258.61,282.11 L259.77,281.36 L260.93,280.61 L262.09,279.85 L263.24,279.10 L264.40,278.34 L265.55,277.57 L266.70,276.81 L267.85,276.04 L268.99,275.27 L270.14,274.49 L271.28,273.71 L272.42,272.93 L273.56,272.15 L274.69,271.36 L275.83,270.57 L276.96,269.77 L278.09,268.98 L279.22,268.18 L280.35,267.38 L281.47,266.57 L282.60,265.76 L283.72,264.95 L284.84,264.14 L285.95,263.32 L287.07,262.50 L288.18,261.68 L289.29,260.86 L290.40,260.03 L291.51,259.20 L292.61,258.36 L293.72,257.53 L294.82,256.69 L295.92,255.85 L297.01,255.00 L298.11,254.16 L299.20,253.31 L300.29,252.45 L301.38,251.60 L302.46,250.74 L303.55,249.88 L304.63,249.02 L305.71,248.15 L306.79,247.28 L307.86,246.41 L308.94,245.54 L310.01,244.66 L311.07,243.78 L312.14,242.90 L313.21,242.02 L314.27,241.13 L315.33,240.24 L316.38,239.35 L317.44,238.46 L318.49,237.56 L319.54,236.66 L320.59,235.76 L321.64,234.86 L322.68,233.95 L323.72,233.05 L324.76,232.13 L325.80,231.22 L326.83,230.30 L327.86,229.39 L328.89,228.46 L329.92,227.54 L330.94,226.61 L331.97,225.68 L332.98,224.75 L334.00,223.82 L335.01,222.88 L336.02,221.94 L337.03,221.00 L338.04,220.05 L339.04,219.10 L340.04,218.15 L341.04,217.20 L342.03,216.24 L343.02,215.28 L344.01,214.32 L344.99,213.36 L345.97,212.39 L346.95,211.42 L347.93,210.45 L348.90,209.47 L349.87,208.49 L350.84,207.51 L351.80,206.53 L352.76,205.54 L353.72,204.55 L354.67,203.55 L355.62,202.56 L356.57,201.56 L357.51,200.55 L358.45,199.55 L359.39,198.54 L360.32,197.53 L361.25,196.51 L362.18,195.50 L363.10,194.47 L364.02,193.45 L364.94,192.42 L365.85,191.39 L366.76,190.36 L367.66,189.32 L368.56,188.28 L369.46,187.24 L370.36,186.19 L371.25,185.14 L372.13,184.09 L373.01,183.04 L373.89,181.98 L374.77,180.91 L375.64,179.85 L376.51,178.78 L377.37,177.71 L378.23,176.63 L379.08,175.55 L379.93,174.47 L380.78,173.39 L381.63,172.30 L382.47,171.21 L383.30,170.11 L384.13,169.01 L384.96,167.91 L385.79,166.81 L386.61,165.70 L387.42,164.59 L388.24,163.48 L389.04,162.36 L389.85,161.25 L390.65,160.13 L391.45,159.00 L392.24,157.87 L393.03,156.74 L393.82,155.61 L394.60,154.48 L395.38,153.34 L396.16,152.20 L396.93,151.05 L397.70,149.91 L398.46,148.76 L399.22,147.61 L399.98,146.45 L400.73,145.30 L401.48,144.14 L402.22,142.98 L402.97,141.81 L403.70,140.65 L404.44,139.48 L405.17,138.31 L405.90,137.13 L406.62,135.96 L407.34,134.78 L408.06,133.60 L408.77,132.42 L409.48,131.23 L410.18,130.04 L410.89,128.86 L411.58,127.66 L412.28,126.47 L412.97,125.27 L413.66,124.08 L414.34,122.88 L415.02,121.67 L415.70,120.47 L416.37,119.26 L417.04,118.05 L417.71,116.84 L418.37,115.63 L419.03,114.42 L419.69,113.20 L420.34,111.99 L420.99,110.77 L421.63,109.54 L422.28,108.32 L422.92,107.10 L423.55,105.87 L424.18,104.64 L424.81,103.41 L425.44,102.18 L426.06,100.95 L426.67,99.71 L427.29,98.47 L427.90,97.24 L428.51,96.00 L429.11,94.76 L429.71,93.51 L430.31,92.27 L430.91,91.02 L431.50,89.78 L432.09,88.53 L432.67,87.28 L433.25,86.03 L433.83,84.77 L434.40,83.52 L434.97,82.26 L435.54,81.01 L436.11,79.75 L436.67,78.49 L437.23,77.23 L437.78,75.97 L438.33,74.71 L438.88,73.44 L439.42,72.18 L439.97,70.91 L440.50,69.65 L441.04,68.38 L441.57,67.11 L442.10,65.84 L442.63,64.57 L443.15,63.30 L443.67,62.03 L444.18,60.75 L444.70,59.48 L445.21,58.20 L445.71,56.93 L446.22,55.65 L446.72,54.37 L447.21,53.09 L447.71,51.81 L448.20,50.54 L448.69,49.25 L449.17,47.97 L449.65,46.69 L450.13,45.41 L450.61,44.13 L451.08,42.84 L451.55,41.56 L452.02,40.28 L452.48,38.99 L452.94,37.71 L453.40,36.42 L453.86,35.14 L454.33,33.85 L454.79,32.57 L455.25,31.28 L455.71,30.00 L456.17,28.71 L456.63,27.43 L457.09,26.14 L457.56,24.86 L458.02,23.57" stroke-dasharray="5.8 5.232" stroke-dashoffset="7.702"/>
<path d="M100.09,360.14 L101.29,359.66 L102.50,359.17 L103.71,358.68 L104.91,358.20 L106.12,357.71 L107.32,357.23 L108.53,356.74 L109.73,356.25 L110.94,355.77 L112.14,355.28 L113.35,354.80 L114.55,354.31 L115.76,353.82 L116.97,353.34 L118.19,352.85 L119.41,352.37 L120.64,351.89 L121.88,351.41 L123.11,350.92 L124.36,350.44 L125.61,349.96 L126.86,349.48 L128.11,349.00 L129.37,348.52 L130.64,348.04 L131.90,347.56 L133.17,347.08 L134.45,346.60 L135.72,346.12 L137.00,345.64 L138.29,345.16 L139.57,344.68 L140.86,344.20 L142.15,343.72 L143.44,343.24 L144.74,342.75 L146.04,342.27 L147.34,341.79 L148.64,341.30 L149.94,340.82 L151.24,340.33 L152.55,339.85 L153.85,339.36 L155.16,338.87 L156.46,338.38 L157.77,337.89 L159.08,337.40 L160.39,336.91 L161.70,336.42 L163.01,335.92 L164.31,335.43 L165.62,334.93 L166.93,334.43 L168.24,333.93 L169.54,333.43 L170.85,332.92 L172.15,332.42 L173.45,331.91 L174.76,331.40 L176.05,330.89 L177.35,330.38 L178.65,329.86 L179.94,329.35 L181.24,328.83 L182.53,328.31 L183.81,327.79 L185.10,327.26 L186.38,326.73 L187.67,326.20 L188.95,325.67 L190.22,325.14 L191.50,324.61 L192.77,324.07 L194.05,323.53 L195.32,322.99 L196.59,322.45 L197.85,321.90 L199.12,321.35 L200.38,320.80 L201.65,320.25 L202.91,319.70 L204.16,319.14 L205.42,318.59 L206.68,318.03 L207.93,317.46 L209.19,316.90 L210.44,316.33 L211.69,315.77 L212.94,315.20 L214.18,314.63 L215.43,314.05 L216.67,313.48 L217.92,312.90 L219.16,312.32 L220.40,311.74 L221.64,311.15 L222.88,310.57 L224.11,309.98 L225.35,309.39 L226.59,308.80 L227.82,308.20 L229.05,307.61 L230.28,307.01 L231.52,306.41 L232.75,305.80 L233.97,305.20 L235.20,304.59 L236.43,303.99 L237.66,303.37 L238.88,302.76 L240.11,302.15 L241.33,301.53 L242.55,300.91 L243.78,300.29 L245.00,299.67 L246.22,299.04 L247.44,298.42 L248.66,297.79 L249.88,297.16 L251.10,296.53 L252.32,295.89 L253.53,295.25 L254.75,294.61 L255.96,293.97 L257.18,293.33 L258.39,292.68 L259.60,292.04 L260.82,291.38 L262.03,290.73 L263.23,290.08 L264.44,289.42 L265.65,288.76 L266.86,288.10 L268.06,287.44 L269.27,286.77 L270.47,286.10 L271.67,285.43 L272.87,284.76 L274.07,284.09 L275.27,283.41 L276.47,282.73 L277.66,282.05 L278.86,281.36 L280.05,280.67 L281.24,279.99 L282.43,279.29 L283.62,278.60 L284.81,277.90 L286.00,277.20 L287.19,276.50 L288.37,275.80 L289.55,275.09 L290.73,274.38 L291.91,273.67 L293.09,272.96 L294.27,272.24 L295.44,271.52 L296.62,270.80 L297.79,270.08 L298.96,269.35 L300.13,268.62 L301.30,267.89 L302.46,267.15 L303.63,266.42 L304.79,265.68 L305.95,264.94 L307.11,264.19 L308.27,263.44 L309.43,262.69 L310.58,261.94 L311.73,261.18 L312.88,260.43 L314.03,259.67 L315.18,258.90 L316.33,258.14 L317.47,257.37 L318.61,256.60 L319.75,255.82 L320.89,255.05 L322.03,254.27 L323.17,253.49 L324.30,252.70 L325.43,251.92 L326.57,251.13 L327.69,250.34 L328.82,249.54 L329.95,248.75 L331.07,247.95 L332.20,247.15 L333.32,246.34 L334.44,245.54 L335.55,244.73 L336.67,243.92 L337.78,243.10 L338.90,242.29 L340.01,241.47 L341.12,240.65 L342.22,239.82 L343.33,239.00 L344.43,238.17 L345.54,237.34 L346.64,236.50 L347.74,235.67 L348.84,234.83 L349.93,233.99 L351.03,233.15 L352.12,232.30 L353.21,231.45 L354.30,230.60 L355.39,229.75 L356.47,228.90 L357.56,228.04 L358.64,227.18 L359.72,226.32 L360.80,225.45 L361.88,224.59 L362.95,223.72 L364.03,222.85 L365.10,221.97 L366.17,221.10 L367.24,220.22 L368.31,219.34 L369.37,218.46 L370.44,217.57 L371.50,216.68 L372.56,215.80 L373.62,214.90 L374.68,214.01 L375.73,213.11 L376.79,212.22 L377.84,211.32 L378.89,210.41 L379.94,209.51 L380.98,208.60 L382.03,207.70 L383.07,206.79 L384.11,205.87 L385.15,204.96 L386.19,204.04 L387.23,203.12 L388.26,202.20 L389.30,201.28 L390.33,200.36 L391.36,199.43 L392.39,198.50 L393.41,197.57 L394.44,196.64 L395.46,195.71 L396.48,194.77 L397.50,193.83 L398.51,192.89 L399.53,191.95 L400.54,191.01 L401.55,190.07 L402.56,189.12 L403.57,188.17 L404.58,187.22 L405.58,186.27 L406.58,185.32 L407.59,184.36 L408.58,183.40 L409.58,182.45 L410.58,181.48 L411.57,180.52 L412.56,179.56 L413.55,178.59 L414.54,177.63 L415.53,176.66 L416.51,175.69 L417.49,174.72 L418.47,173.75 L419.45,172.77 L420.43,171.79 L421.40,170.82 L422.38,169.84 L423.35,168.86 L424.32,167.88 L425.29,166.89 L426.26,165.91 L427.22,164.92 L428.18,163.93 L429.15,162.95 L430.11,161.96 L431.06,160.96 L432.02,159.97 L432.98,158.98 L433.93,157.98 L434.88,156.99 L435.83,155.99 L436.78,154.99 L437.73,153.99 L438.67,152.99 L439.62,151.98 L440.56,150.98 L441.50,149.97 L442.44,148.97 L443.38,147.96 L444.32,146.95 L445.25,145.94 L446.19,144.93 L447.12,143.92 L448.05,142.91 L448.98,141.90 L449.91,140.88 L450.84,139.86 L451.76,138.85 L452.69,137.83 L453.61,136.81 L454.53,135.79 L455.45,134.77 L456.37,133.75 L457.29,132.73 L458.20,131.71 L459.12,130.68 L460.03,129.66 L460.94,128.63 L461.86,127.61 L462.77,126.58 L463.68,125.55 L464.59,124.53 L465.50,123.50 L466.41,122.48 L467.33,121.45 L468.24,120.43 L469.15,119.40 L470.06,118.37 L470.97,117.35 L471.89,116.32" stroke-dasharray="5.8 5.229" stroke-dashoffset="9.767"/>
</g>
</g>
</svg>
</body></html>
